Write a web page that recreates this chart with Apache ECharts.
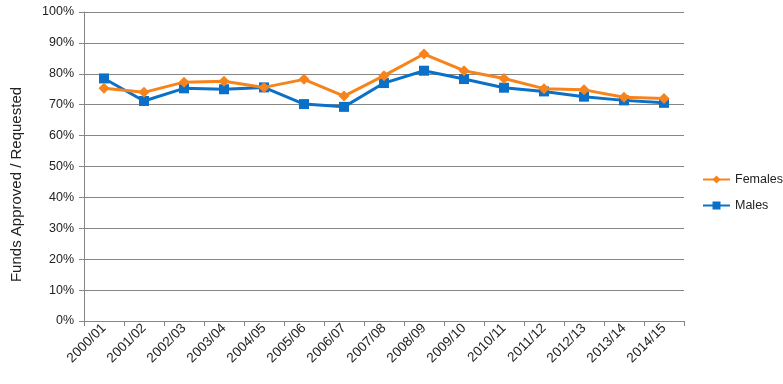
<!DOCTYPE html>
<html><head><meta charset="utf-8">
<script src="https://cdn.jsdelivr.net/npm/echarts@6/dist/echarts.min.js"></script>
<style>html,body{margin:0;padding:0;background:#fff}#c{width:783px;height:384px}</style>
</head><body><div id="c"></div>
<script>
var categories = ['2000/01','2001/02','2002/03','2003/04','2004/05','2005/06','2006/07','2007/08','2008/09','2009/10','2010/11','2011/12','2012/13','2013/14','2014/15'];
var females = [75.3, 74.0, 77.3, 77.6, 75.6, 78.2, 72.8, 79.4, 86.4, 81.0, 78.5, 75.2, 74.8, 72.4, 72.0];
var males = [78.5, 71.2, 75.3, 75.0, 75.6, 70.2, 69.3, 77.0, 81.0, 78.3, 75.5, 74.3, 72.6, 71.4, 70.6];
var yTicks = [0,10,20,30,40,50,60,70,80,90,100];

var chart = echarts.init(document.getElementById('c'));
var font = 'Liberation Sans, Arial, sans-serif';
chart.setOption({
  animation: false,
  textStyle: {fontFamily: font},
  grid: {left: 84, right: 99, top: 12, bottom: 63},
  legend: {
    orient: 'vertical', left: 697, top: 168, itemGap: 13,
    itemWidth: 27, itemHeight: 10,
    textStyle: {fontSize: 12.5, color: '#222', fontFamily: font},
    data: ['Females','Males']
  },
  xAxis: {
    type: 'category', data: categories, boundaryGap: true,
    axisLine: {lineStyle: {color: '#868686', width: 1}},
    axisTick: {show: true, length: 5, lineStyle: {color: '#868686'}},
    axisLabel: {rotate: 45, fontSize: 13.5, color: '#222', margin: 5, fontFamily: font}
  },
  yAxis: {
    type: 'value', min: 0, max: 100, interval: 10,
    name: 'Funds Approved / Requested', nameLocation: 'middle', nameGap: 60,
    nameTextStyle: {fontSize: 15, color: '#222', fontFamily: font, padding: [0, 36, 0, 0]},
    axisLine: {show: true, lineStyle: {color: '#868686'}},
    axisTick: {show: true, length: 5, lineStyle: {color: '#868686'}},
    splitLine: {lineStyle: {color: '#868686', width: 1}},
    axisLabel: {fontSize: 12.5, color: '#222', margin: 10, fontFamily: font,
      formatter: function(v){ return v + '%'; }}
  },
  series: [
    {name: 'Females', type: 'line', data: females, symbol: 'diamond', symbolSize: 11,
     lineStyle: {color: '#F7831C', width: 3}, itemStyle: {color: '#F7831C'}, z: 3},
    {name: 'Males', type: 'line', data: males, symbol: 'rect', symbolSize: 10,
     lineStyle: {color: '#0A70C8', width: 3}, itemStyle: {color: '#0A70C8'}, z: 2}
  ]
});
</script></body></html>
